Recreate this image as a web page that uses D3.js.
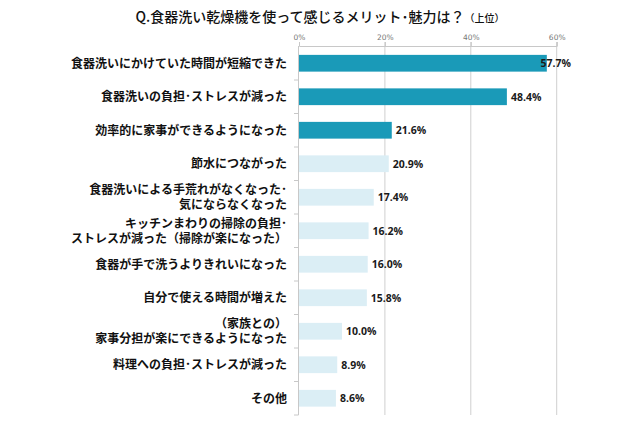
<!DOCTYPE html>
<html><head><meta charset="utf-8">
<script src="https://cdn.jsdelivr.net/npm/d3@7"></script>
<style>body{margin:0;background:#fff}</style>
</head><body>
<svg id="c" width="640" height="426"></svg>
<script>
const categories = [
  ["食器洗いにかけていた時間が短縮できた"],
  ["食器洗いの負担･ストレスが減った"],
  ["効率的に家事ができるようになった"],
  ["節水につながった"],
  ["食器洗いによる手荒れがなくなった･", "気にならなくなった"],
  ["キッチンまわりの掃除の負担･", "ストレスが減った（掃除が楽になった）"],
  ["食器が手で洗うよりきれいになった"],
  ["自分で使える時間が増えた"],
  ["（家族との）", "家事分担が楽にできるようになった"],
  ["料理への負担･ストレスが減った"],
  ["その他"]
];
const values = [57.7, 48.4, 21.6, 20.9, 17.4, 16.2, 16.0, 15.8, 10.0, 8.9, 8.6];
const highlighted = [true, true, true, false, false, false, false, false, false, false, false];
const tickValues = [0, 20, 40, 60];
const titleMain = "Q.食器洗い乾燥機を使って感じるメリット･魅力は？";
const titleSub = "（上位）";

const svg = d3.select("#c");
const x = d3.scaleLinear().domain([0, 60]).range([299, 556.7]);
const y = d3.scaleBand().domain(d3.range(values.length)).range([46.5, 415]).paddingInner(0.5).paddingOuter(0.25);

const jp = "'Noto Sans CJK JP', 'Noto Sans', sans-serif";

// title
const t = svg.append("text").attr("x", 320).attr("y", 22).attr("text-anchor", "middle")
  .style("font-family", jp).style("fill", "#111");
t.append("tspan").text(titleMain).style("font-size", "14px").style("font-weight", 500);
t.append("tspan").text(titleSub).style("font-size", "10px").style("font-weight", 500);

// gridlines
svg.append("g").selectAll("line").data(tickValues.slice(1)).join("line")
  .attr("x1", d => x(d)).attr("x2", d => x(d)).attr("y1", 42).attr("y2", 415)
  .attr("stroke", "#cfcfcf").attr("stroke-width", 1);

// top axis
const ax = svg.append("g").attr("transform", "translate(0,46)")
  .call(d3.axisTop(x).tickValues(tickValues).tickSize(4).tickFormat(d => d + "%"));
ax.select(".domain").attr("stroke", "#c8c8c8");
ax.selectAll(".tick line").attr("stroke", "#c8c8c8");
ax.selectAll("text").attr("y", -6).style("font-family", "'DejaVu Sans', sans-serif")
  .style("font-size", "7.5px").style("fill", "#777");

// bars
svg.append("g").selectAll("rect").data(values).join("rect")
  .attr("x", x(0)).attr("y", (d, i) => y(i))
  .attr("height", y.bandwidth())
  .attr("width", d => x(d) - x(0))
  .attr("fill", (d, i) => highlighted[i] ? "#1a9ab8" : "#dbeef5");

// left axis with tick marks at band boundaries
svg.append("line").attr("x1", 298.5).attr("x2", 298.5).attr("y1", 46).attr("y2", 415)
  .attr("stroke", "#c8c8c8");
const n = values.length;
const bounds = d3.range(1, n + 1).map(i => 46.5 + i * (415 - 46.5) / n);
svg.append("g").selectAll("line").data(bounds).join("line")
  .attr("x1", 294).attr("x2", 298.5).attr("y1", d => d).attr("y2", d => d)
  .attr("stroke", "#c8c8c8");

// value labels
svg.append("g").selectAll("text").data(values).join("text")
  .attr("x", d => x(d) + 4).attr("y", (d, i) => y(i) + y.bandwidth() / 2 + 4)
  .text(d => d.toFixed(1) + "%")
  .style("font-family", "'Open Sans', sans-serif").style("font-weight", 700)
  .style("font-size", "10.5px").style("fill", "#1a1a1a")
  .each(function(d) {
    const w = this.getComputedTextLength();
    const maxRight = 571;
    if (x(d) + 4 + w > maxRight) d3.select(this).attr("x", maxRight - w);
  });

// category labels
const lg = svg.append("g");
categories.forEach((lines, i) => {
  const cy = y(i) + y.bandwidth() / 2;
  const lh = 15;
  const t0 = cy - (lines.length - 1) * lh / 2 + 4.5;
  lines.forEach((l, k) => lg.append("text").attr("text-anchor", "end")
    .attr("x", 287).attr("y", t0 + k * lh).text(l)
    .style("font-family", jp).style("font-size", "12px").style("font-weight", 700).style("fill", "#111"));
});
</script>
</body></html>
